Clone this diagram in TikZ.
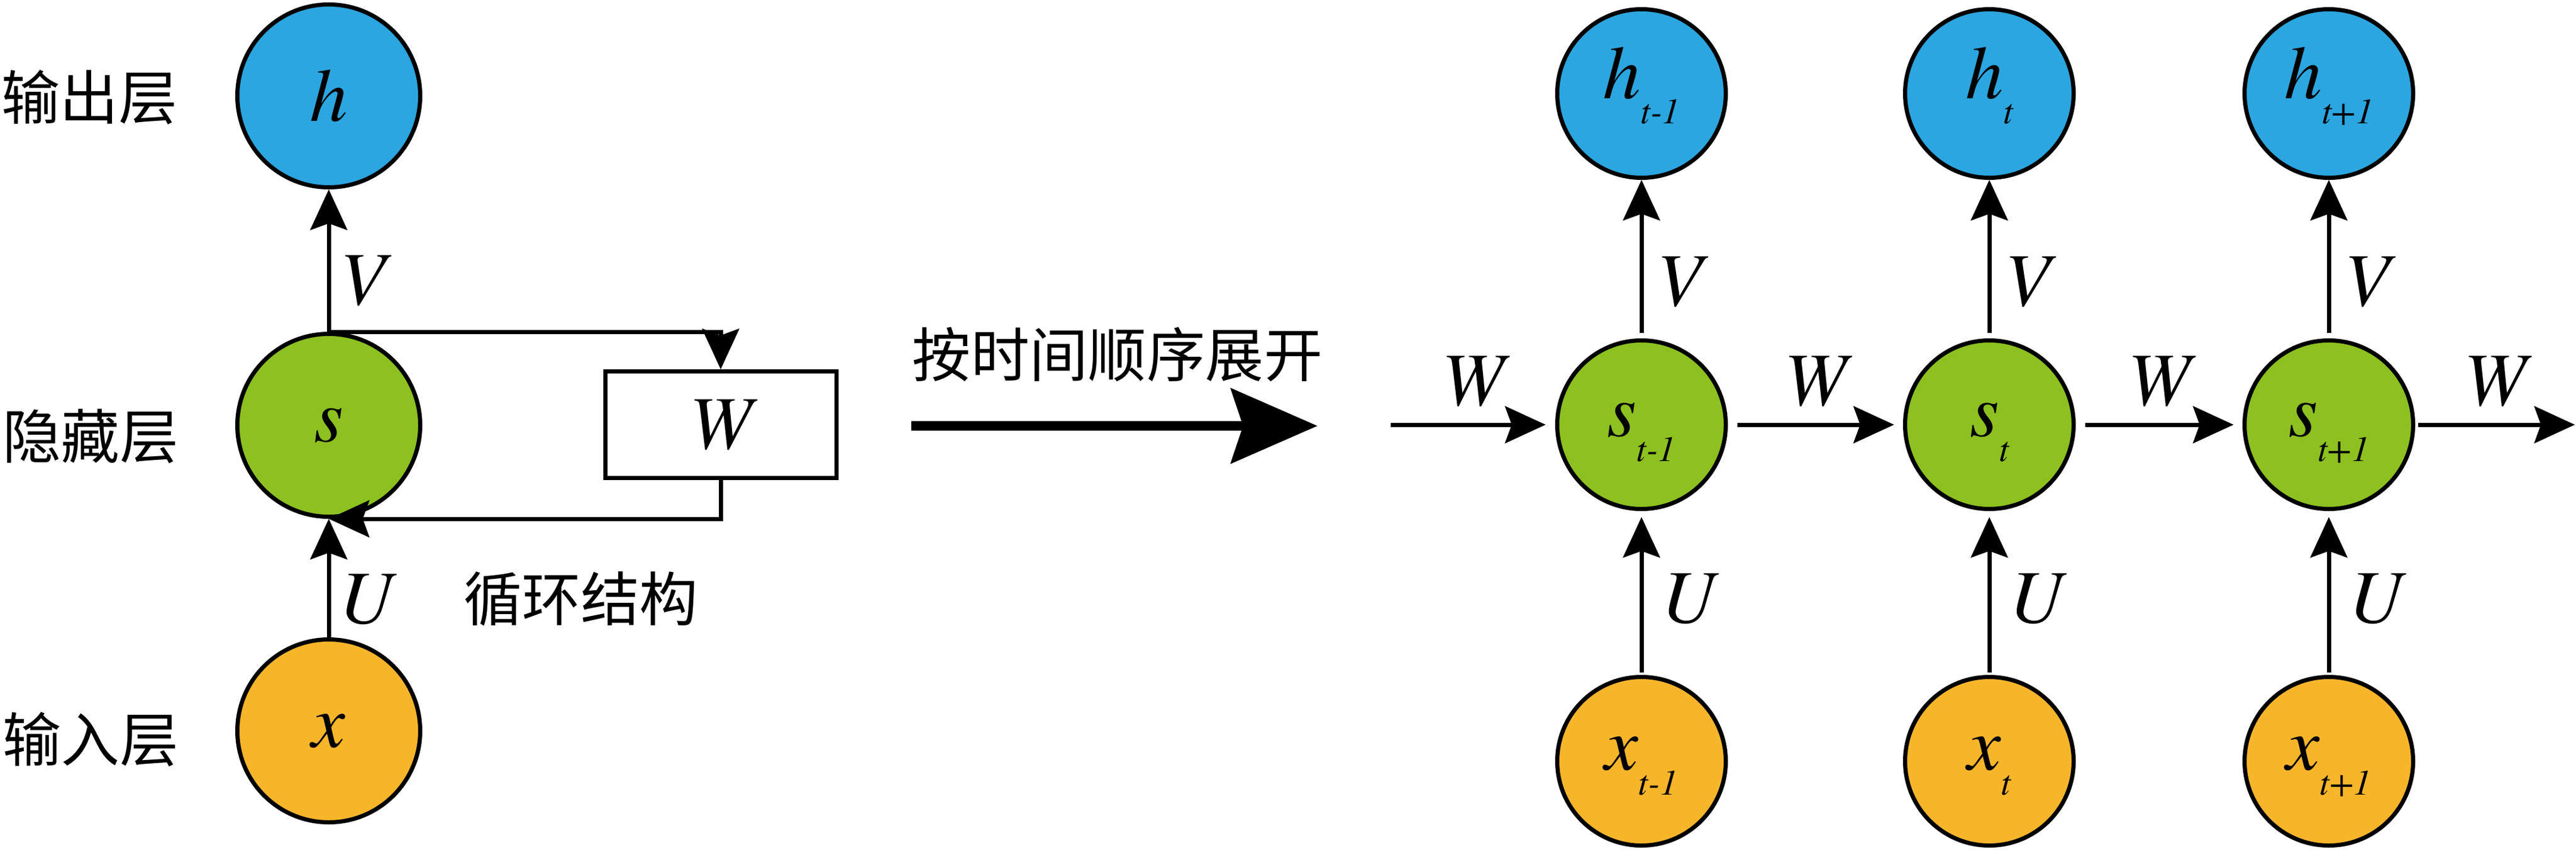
\documentclass[tikz,border=0pt]{standalone}
\usepackage{fontspec}
\setmainfont{texgyretermes}[Extension=.otf,UprightFont=*-regular,ItalicFont=*-italic,BoldFont=*-bold,BoldItalicFont=*-bolditalic]
\newfontfamily\cjk{Noto Sans CJK SC}
\usetikzlibrary{arrows.meta}
\definecolor{outblue}{RGB}{43,166,224}
\definecolor{hidgreen}{RGB}{141,193,31}
\definecolor{inorange}{RGB}{247,181,42}
\newcommand{\tsub}[2]{#1\raisebox{-0.42cm}{\fontsize{17}{17}\selectfont #2}}

\begin{document}
\begin{tikzpicture}[>={Stealth[length=0.68cm,width=0.62cm,inset=0.11cm]},
    line width=0.07cm,
    unit/.style={circle,draw=black,inner sep=0pt,font=\fontsize{36}{40}\selectfont\itshape},
    bigunit/.style={unit,minimum size=3.07cm},
    smallunit/.style={unit,minimum size=2.83cm,text height=#1,text depth=0.45cm},
    layer/.style={font=\cjk\fontsize{28}{32}\selectfont},
    wlabel/.style={font=\fontsize{36}{40}\selectfont\itshape,inner sep=0pt}]
    \useasboundingbox (0,0) rectangle (43.25,-14.26);

    % draw the folded network
    \node[bigunit,fill=outblue] (h0) at (5.52,-1.61) {h};
    \node[bigunit,fill=hidgreen] (s0) at (5.52,-7.14) {s};
    \node[bigunit,fill=inorange] (x0) at (5.52,-12.27) {x};
    \node[draw,wlabel,minimum width=3.88cm,minimum height=1.79cm] (wbox) at (12.10,-7.13) {W};

    % draw the layer names
    \node[layer] (outname) at (1.50,-1.63) {输出层};
    \node[layer] (hidname) at (1.52,-7.33) {隐藏层};
    \node[layer] (inname) at (1.52,-12.41) {输入层};

    % arrows of the folded network
    \draw[->] (s0) -- node[wlabel,pos=0.36,right=0.15cm] {V} (h0);
    \draw[->] (x0) -- node[wlabel,pos=0.32,right=0.14cm] {U} (s0);
    \draw[->] (s0.north) -| (wbox.north);
    \draw[->] (wbox.south) |- (s0.south);
    \node[layer] (loopname) at (9.75,-10.05) {循环结构};

    % unfold in time
    \node[layer] (unfoldname) at (18.76,-5.95) {按时间顺序展开};
    \coordinate (unfoldstart) at (15.30,-7.15);
    \coordinate (unfoldend) at (22.12,-7.15);
    \draw[line width=0.16cm,-{Stealth[length=1.45cm,width=1.25cm,inset=0.2cm]}] (unfoldstart) -- (unfoldend);

    % draw the unfolded network
    \foreach \i/\xx/\ttext in {1/27.56/t-1, 2/33.40/t, 3/39.10/t+1} {
      \node[smallunit=0.61cm,fill=outblue] (h\i) at (\xx,-1.57) {\tsub{h}{\ttext}};
      \node[smallunit=0.83cm,fill=hidgreen] (s\i) at (\xx,-7.13) {\tsub{s}{\ttext}};
      \node[smallunit=0.73cm,fill=inorange] (x\i) at (\xx,-12.78) {\tsub{x}{\ttext}};
      \draw[->,shorten <=0.09cm] (s\i) -- node[wlabel,pos=0.355,right=0.22cm] {V} (h\i);
      \draw[->,shorten <=0.04cm,shorten >=0.1cm] (x\i) -- node[wlabel,pos=0.465,right=0.3cm] {U} (s\i);
    }

    % recurrent connections along time
    \coordinate (win) at (23.35,-7.13);
    \coordinate (wout) at (43.23,-7.13);
    \draw[->,shorten >=0.16cm] (win) -- node[wlabel,above=0.27cm] {W} (s1);
    \draw[->,shorten <=0.16cm,shorten >=0.15cm] (s1) -- node[wlabel,above=0.27cm] {W} (s2);
    \draw[->,shorten <=0.16cm,shorten >=0.15cm] (s2) -- node[wlabel,above=0.27cm] {W} (s3);
    \draw[->,shorten <=0.05cm] (s3) -- node[wlabel,above=0.27cm] {W} (wout);
  \end{tikzpicture}
\end{document}
